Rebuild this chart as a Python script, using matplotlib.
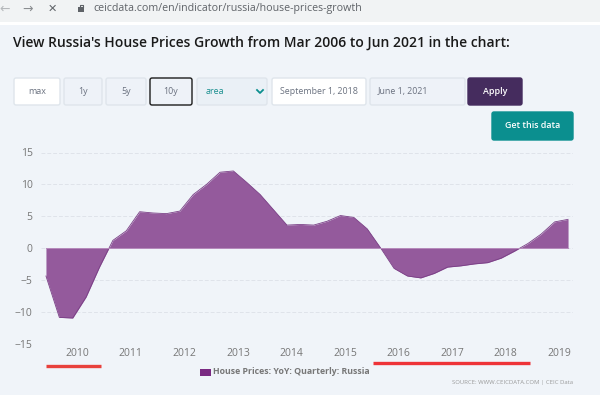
import matplotlib
matplotlib.use('Agg')
import matplotlib.pyplot as plt
from matplotlib.patches import FancyBboxPatch, Rectangle
import numpy as np

plt.rcParams['font.family'] = ['Open Sans', 'DejaVu Sans']

# House prices YoY, one value per quarter
values = [-4.4, -10.9, -11.0, -7.7, -3.0, 1.2, 2.7, 5.7, 5.5, 5.4,
          5.8, 8.4, 10.0, 11.9, 12.1, 10.3, 8.4, 6.0, 3.6, 3.7,
          3.6, 4.2, 5.1, 4.8, 3.0, 0.0, -3.2, -4.4, -4.7, -4.0,
          -3.0, -2.8, -2.5, -2.3, -1.6, -0.5, 0.7, 2.2, 4.1, 4.5]
year_labels = ['2010', '2011', '2012', '2013', '2014', '2015', '2016', '2017', '2018', '2019']
y_ticks = [-15, -10, -5, 0, 5, 10, 15]

# page furniture: label, left, right, top, bottom, face, edge, text colour
buttons = [
    ('max', 14, 60, 78, 105, '#ffffff', '#dfe5ec', '#6b7280'),
    ('1y', 64, 102, 78, 105, '#eef2f8', '#dfe5ec', '#6b7280'),
    ('5y', 106, 146, 78, 105, '#eef2f8', '#dfe5ec', '#6b7280'),
    ('10y', 150, 192, 78, 105, '#eef2f8', '#1c1c1c', '#6b7280'),
    ('Apply', 468, 522, 78, 105, '#452c5e', '#452c5e', '#ffffff'),
    ('Get this data', 492, 573, 112, 140, '#0b8f8f', '#0b8f8f', '#ffffff'),
]
inputs = [
    ('September 1, 2018', 272, 366, '#ffffff'),
    ('June 1, 2021', 370, 465, '#eef2f8'),
]

bg = '#f0f4f9'
fig = plt.figure(figsize=(6, 3.95), dpi=100, facecolor=bg)

# pixel-space layer for browser bar and controls
page = fig.add_axes([0, 0, 1, 1])
page.set_xlim(0, 600)
page.set_ylim(395, 0)
page.axis('off')

page.add_patch(Rectangle((0, 0), 600, 22, fc='#f1f3f4', ec='none'))
page.add_patch(Rectangle((0, 22), 600, 3, fc='#ffffff', ec='none'))
page.text(5, 9, '←', color='#b5b8bb', fontsize=9, ha='center', va='center', family='DejaVu Sans')
page.text(28, 9, '→', color='#8a8d90', fontsize=9, ha='center', va='center', family='DejaVu Sans')
page.text(52, 9, '✕', color='#5f6368', fontsize=8, ha='center', va='center', family='DejaVu Sans')
page.add_patch(Rectangle((78, 7), 6, 5, fc='#5f6368', ec='none'))
page.plot([79.5, 79.5, 82.5, 82.5], [7, 4.5, 4.5, 7], color='#5f6368', lw=0.8)
page.text(93, 8.5, 'ceicdata.com/en/indicator/russia/house-prices-growth', color='#5f6368',
          fontsize=7.65, ha='left', va='center')
page.text(13, 43, "View Russia's House Prices Growth from Mar 2006 to Jun 2021 in the chart:",
          color='#1a1a1a', fontsize=10.0, fontweight='semibold', ha='left', va='center')

for label, x0, x1, y0, y1, face, edge, tcol in buttons:
    page.add_patch(FancyBboxPatch((x0 + 2, y0 + 2), x1 - x0 - 4, y1 - y0 - 4,
                                  boxstyle='round,pad=2', fc=face, ec=edge, lw=1))
    weight = 'semibold' if tcol == '#ffffff' else 'normal'
    page.text((x0 + x1) / 2, (y0 + y1) / 2, label, color=tcol, fontsize=6.4, fontweight=weight,
              ha='center', va='center')

page.add_patch(FancyBboxPatch((199, 80), 66, 23, boxstyle='round,pad=2', fc='#eaf0f6', ec='#dfe5ec', lw=1))
page.text(206, 91.5, 'area', color='#1a8f8f', fontsize=6.4, ha='left', va='center')
page.plot([257, 260, 263], [90, 93, 90], color='#0b8f8f', lw=1.3)

for label, x0, x1, face in inputs:
    page.add_patch(FancyBboxPatch((x0 + 2, 80), x1 - x0 - 4, 23, boxstyle='round,pad=2',
                                  fc=face, ec='#dfe5ec', lw=1))
    page.text(x0 + 8, 91.5, label, color='#6b7280', fontsize=6.4, ha='left', va='center')

# the chart itself, 41..573 px wide, 152.5..343.5 px tall
ax = fig.add_axes([41 / 600, 1 - 343.5 / 395, 532 / 600, 191 / 395], facecolor='none')
quarters = np.arange(len(values))
vals = np.array(values)
ax.fill_between(quarters, vals, 0, color='#945a9c', lw=0)
ax.plot(quarters, vals, color='#7a3f86', lw=0.6)
ax.axhline(0, xmin=5 / 532, xmax=527 / 532, color='#b58abb', lw=0.7)

ax.set_xlim(-0.37, 39.37)
ax.set_ylim(-15, 15)
ax.set_yticks(y_ticks)
ax.set_yticklabels([str(t).replace('-', '−') for t in y_ticks])
ax.set_xticks(2.34 + 4 * np.arange(len(year_labels)))
ax.set_xticklabels(year_labels)
ax.tick_params(length=0, labelsize=7.5, labelcolor='#777777')
ax.tick_params(axis='x', pad=3.5)
ax.tick_params(axis='y', pad=6)
ax.grid(axis='y', color='#dfe3ea', lw=0.7, linestyle=(0, (4, 2)))
ax.set_axisbelow(True)
for s in ax.spines.values():
    s.set_visible(False)

# annotations in pixel space, red marks were drawn over the screenshot
page.plot([46, 101], [366, 366], color='#e8413c', lw=2.4, solid_capstyle='butt')
page.plot([373, 530], [363, 363], color='#ee3338', lw=2.4, solid_capstyle='butt')
page.add_patch(Rectangle((200, 369), 10.5, 6.5, fc='#7a2a82', ec='none'))
page.text(213, 372, 'House Prices: YoY: Quarterly: Russia', color='#777777', fontsize=6.35,
          fontweight='bold', ha='left', va='center')
page.text(573, 382.5, 'SOURCE: WWW.CEICDATA.COM | CEIC Data', color='#9a9a9a', fontsize=4.3,
          ha='right', va='center')

fig.savefig('out.png', dpi=100, facecolor=bg)
